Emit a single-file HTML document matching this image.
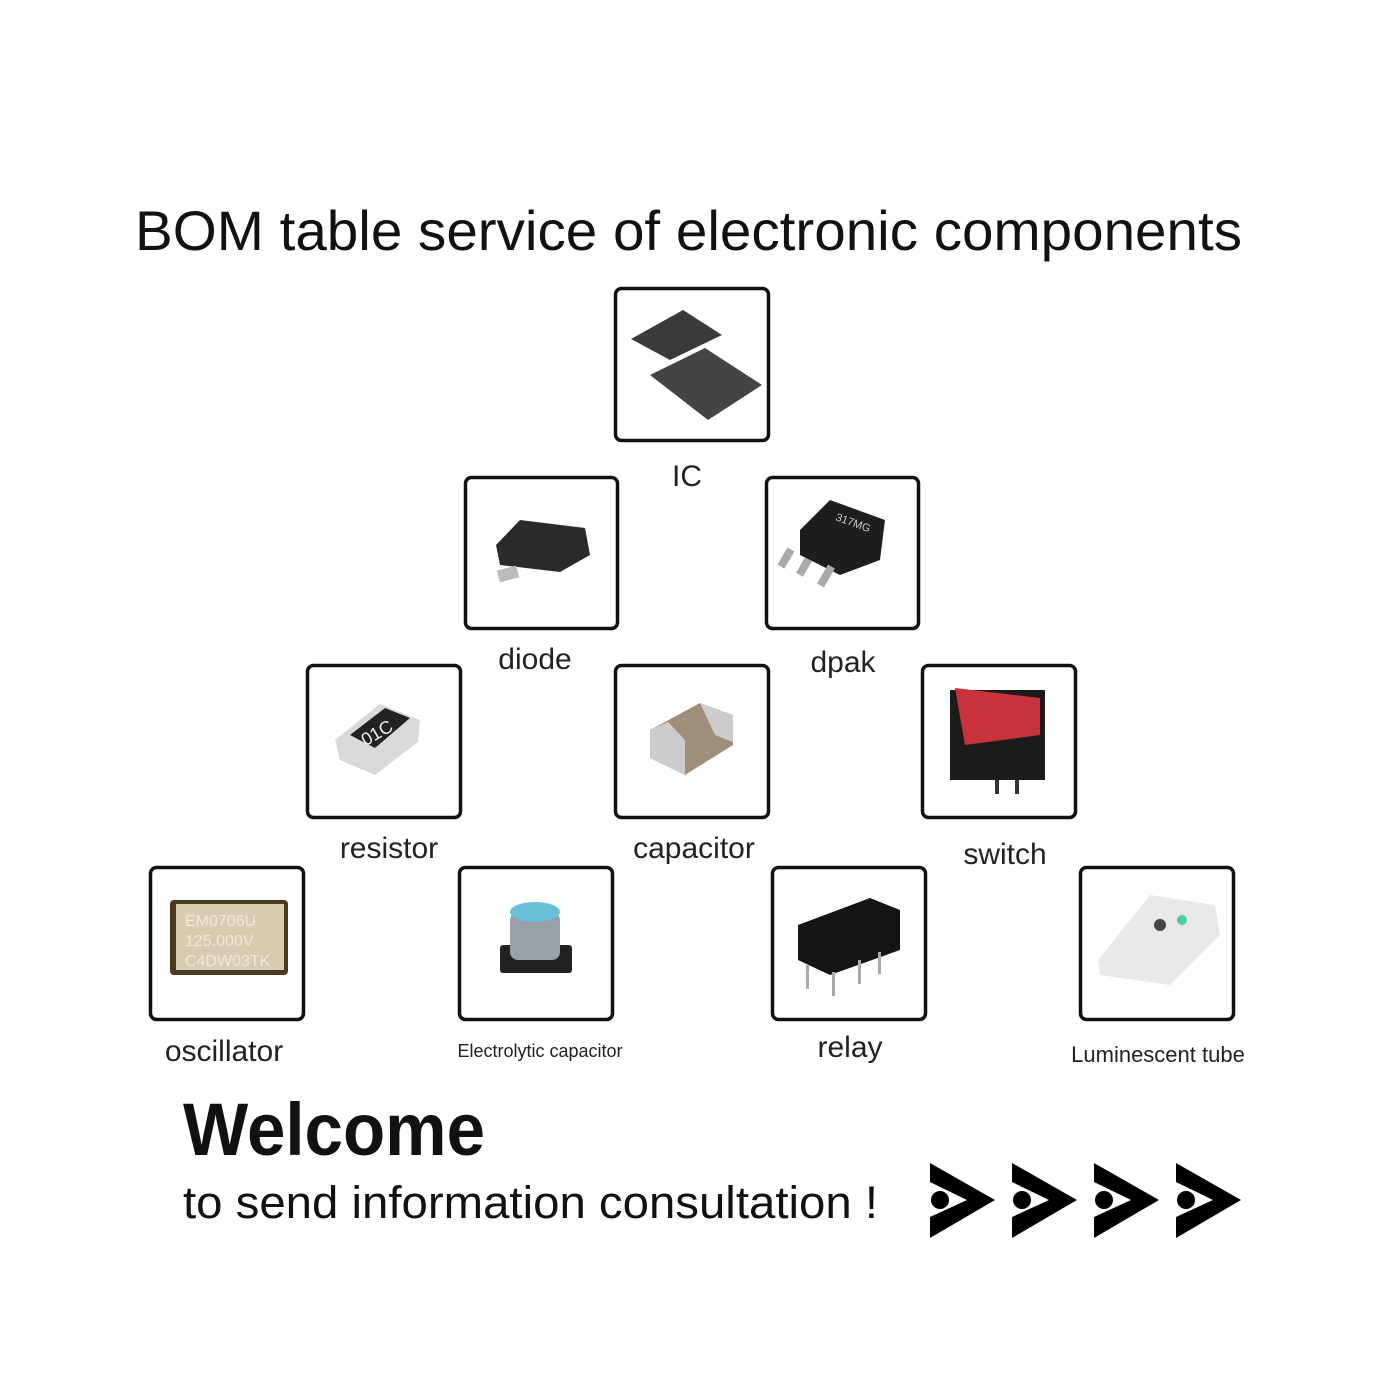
<!DOCTYPE html>
<html><head><meta charset="utf-8"><style>
html,body{margin:0;padding:0;background:#fff}
svg{display:block}
text{font-family:"Liberation Sans","DejaVu Sans",sans-serif}
</style></head><body>
<svg width="1400" height="1400" viewBox="0 0 1400 1400" xmlns="http://www.w3.org/2000/svg">
<rect width="1400" height="1400" fill="#fff"/>
<text x="135" y="250" font-size="56" fill="#111" textLength="1107" lengthAdjust="spacingAndGlyphs">BOM table service of electronic components</text>

<g fill="#fff" stroke="#111" stroke-width="3.5">
<rect x="615.5" y="288.5" width="153" height="152" rx="6"/>
<rect x="465.5" y="477.5" width="152" height="151" rx="6"/>
<rect x="766.5" y="477.5" width="152" height="151" rx="6"/>
<rect x="307.5" y="665.5" width="153" height="152" rx="6"/>
<rect x="615.5" y="665.5" width="153" height="152" rx="6"/>
<rect x="922.5" y="665.5" width="153" height="152" rx="6"/>
<rect x="150.5" y="867.5" width="153" height="152" rx="6"/>
<rect x="459.5" y="867.5" width="153" height="152" rx="6"/>
<rect x="772.5" y="867.5" width="153" height="152" rx="6"/>
<rect x="1080.5" y="867.5" width="153" height="152" rx="6"/>
</g>

<!-- IC -->
<polygon points="631,339 683,310 722,335 670,360" fill="#3a3a3a"/>
<polygon points="650,375 705,348 762,385 708,420" fill="#444"/>
<!-- diode -->
<polygon points="496,545 520,520 585,528 590,555 560,572 500,565" fill="#2a2a2a"/>
<rect x="498" y="568" width="20" height="12" fill="#bbb" transform="rotate(-15 508 574)"/>
<!-- dpak -->
<polygon points="800,530 830,500 885,520 880,560 840,575 800,555" fill="#1e1e1e"/>
<text x="835" y="520" font-size="11" fill="#ccc" transform="rotate(20 835 520)">317MG</text>
<g fill="#aaa"><rect x="782" y="548" width="8" height="20" transform="rotate(30 786 558)"/><rect x="800" y="558" width="8" height="18" transform="rotate(30 804 567)"/><rect x="822" y="565" width="8" height="22" transform="rotate(30 826 576)"/></g>
<!-- resistor -->
<polygon points="335,740 380,704 420,720 418,742 375,775 340,760" fill="#d9d9d9"/>
<polygon points="350,735 385,708 410,718 375,748" fill="#222"/>
<text x="358" y="742" font-size="18" fill="#eee" transform="rotate(-30 370 730)">01C</text>
<!-- capacitor -->
<polygon points="650,730 700,703 733,715 733,745 685,775 650,758" fill="#a08f78"/>
<polygon points="650,730 668,722 685,740 685,775 650,758" fill="#ccc"/>
<polygon points="700,703 733,715 733,742 715,735" fill="#ccc"/>
<!-- switch -->
<rect x="950" y="690" width="95" height="90" fill="#1b1b1b"/>
<polygon points="955,688 1040,698 1040,735 965,745" fill="#c8323c"/>
<rect x="995" y="780" width="4" height="14" fill="#333"/><rect x="1015" y="780" width="4" height="14" fill="#333"/>
<!-- oscillator -->
<rect x="170" y="900" width="118" height="75" fill="#4a3a20" rx="4"/>
<rect x="176" y="904" width="108" height="66" fill="#d8ccb0"/>
<text x="185" y="926" font-size="16" fill="#eee8d8">EM0706U</text>
<text x="185" y="946" font-size="16" fill="#eee8d8">125.000V</text>
<text x="185" y="966" font-size="16" fill="#eee8d8">C4DW03TK</text>
<!-- electrolytic -->
<rect x="500" y="945" width="72" height="28" fill="#222" rx="3"/>
<rect x="510" y="912" width="50" height="48" fill="#9aa0a8" rx="8"/>
<ellipse cx="535" cy="912" rx="25" ry="10" fill="#6bc0d8"/>
<!-- relay -->
<polygon points="798,925 870,898 900,910 900,950 830,975 798,960" fill="#151515"/>
<g fill="#aaa"><rect x="806" y="965" width="3" height="24"/><rect x="832" y="972" width="3" height="24"/><rect x="858" y="960" width="3" height="24"/><rect x="878" y="952" width="3" height="22"/></g>
<!-- LED -->
<polygon points="1098,960 1150,895 1215,905 1220,935 1170,985 1100,975" fill="#e8e8e6"/>
<circle cx="1160" cy="925" r="6" fill="#444"/><circle cx="1182" cy="920" r="5" fill="#4ad0a0"/>

<g fill="#222" font-size="30" text-anchor="middle">
<text x="687" y="486">IC</text>
<text x="535" y="669">diode</text>
<text x="843" y="672">dpak</text>
<text x="389" y="858">resistor</text>
<text x="694" y="858">capacitor</text>
<text x="1005" y="864">switch</text>
<text x="224" y="1061">oscillator</text>
<text x="850" y="1057">relay</text>
<text x="540" y="1057" font-size="18">Electrolytic capacitor</text>
<text x="1158" y="1062" font-size="22">Luminescent tube</text>
</g>

<text x="183" y="1155" font-size="74" font-weight="bold" fill="#111" textLength="302" lengthAdjust="spacingAndGlyphs">Welcome</text>
<text x="183" y="1218" font-size="45" fill="#111" textLength="695" lengthAdjust="spacingAndGlyphs">to send information consultation !</text>

<g fill="#000">
<g id="a"><polygon points="930,1163 995,1200 930,1238 930,1217 967,1200 930,1182"/><circle cx="940" cy="1200" r="9"/></g>
<use href="#a" x="82"/><use href="#a" x="164"/><use href="#a" x="246"/>
</g>
</svg>
</body></html>
